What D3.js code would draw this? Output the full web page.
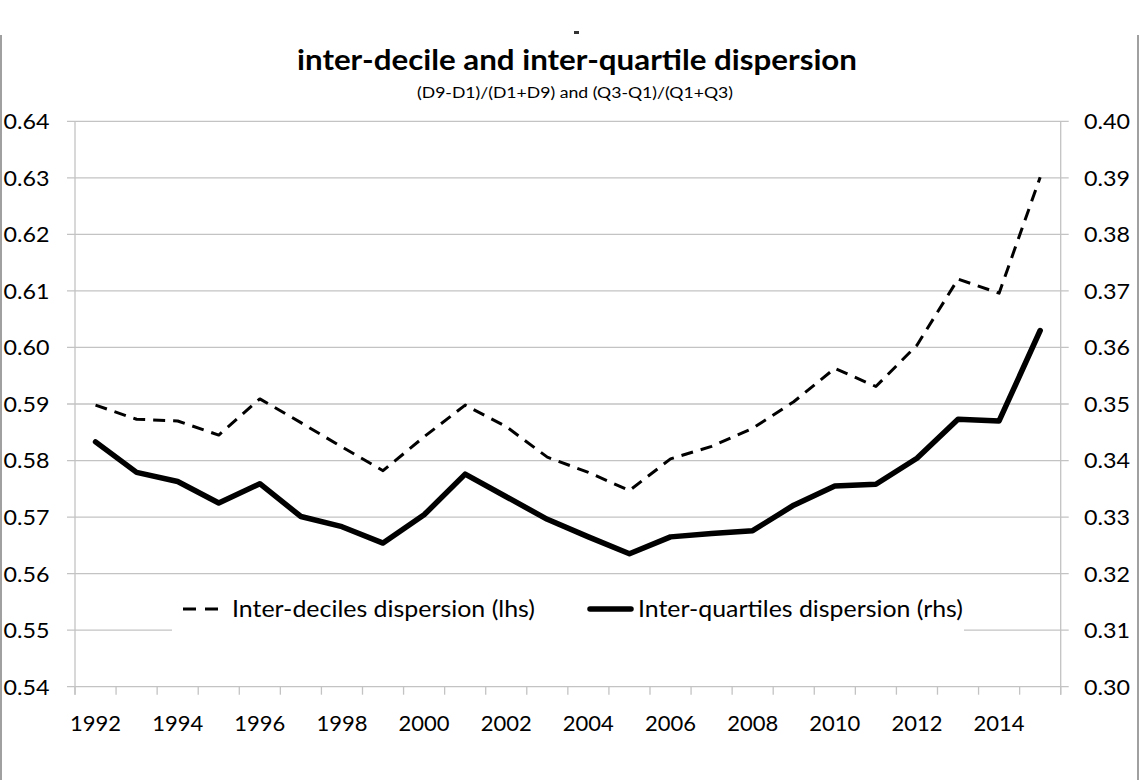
<!DOCTYPE html>
<html>
<head>
<meta charset="utf-8">
<script src="https://cdn.jsdelivr.net/npm/d3@7"></script>
<style>
  html, body { margin: 0; padding: 0; background: #fff; }
  svg { display: block; }
  text { font-family: Lato, "Open Sans", sans-serif; fill: #000; }
</style>
</head>
<body>
<svg id="chart" width="1140" height="780"></svg>
<script>
const years = [1992,1993,1994,1995,1996,1997,1998,1999,2000,2001,2002,2003,2004,2005,2006,2007,2008,2009,2010,2011,2012,2013,2014,2015];
const interDeciles = [0.5898,0.5873,0.5870,0.5845,0.5909,0.5867,0.5824,0.5782,0.5842,0.5898,0.5860,0.5806,0.5779,0.5747,0.5803,0.5825,0.5857,0.5904,0.5963,0.5931,0.6004,0.6121,0.6096,0.6301];
const interQuartiles = [0.3433,0.3379,0.3363,0.3325,0.3359,0.3301,0.3283,0.3254,0.3304,0.3376,0.3336,0.3296,0.3265,0.3235,0.3265,0.3271,0.3276,0.3321,0.3355,0.3358,0.3404,0.3473,0.3470,0.3630];
const leftTicks = [0.54,0.55,0.56,0.57,0.58,0.59,0.60,0.61,0.62,0.63,0.64];
const rightTicks = [0.30,0.31,0.32,0.33,0.34,0.35,0.36,0.37,0.38,0.39,0.40];
const xLabelYears = [1992,1994,1996,1998,2000,2002,2004,2006,2008,2010,2012,2014];
const titleText = "inter-decile and inter-quartile dispersion";
const subtitleText = "(D9-D1)/(D1+D9) and (Q3-Q1)/(Q1+Q3)";
const legendLabels = ["Inter-deciles dispersion (lhs)", "Inter-quartiles dispersion (rhs)"];

const svg = d3.select("#chart");
const L = 75, R = 1060.7, T = 121.3, B = 686.7;
const gridColor = "#c3c3c3";

const x = d3.scaleBand().domain(years).range([L, R]).padding(0);
const cx = d => x(d) + x.bandwidth() / 2;
const yL = d3.scaleLinear().domain([0.54, 0.64]).range([B, T]);
const yR = d3.scaleLinear().domain([0.30, 0.40]).range([B, T]);

// outer border fragments
svg.append("line").attr("x1", 1).attr("x2", 1).attr("y1", 35).attr("y2", 780)
  .attr("stroke", "#a0a0a0").attr("stroke-width", 2);
svg.append("line").attr("x1", 1138).attr("x2", 1138).attr("y1", 35).attr("y2", 780)
  .attr("stroke", "#a0a0a0").attr("stroke-width", 2);
svg.append("rect").attr("x", 574).attr("y", 31).attr("width", 5).attr("height", 3).attr("fill", "#333");

// title
svg.append("text").attr("x", 577).attr("y", 70).attr("text-anchor", "middle")
  .attr("font-size", 29).attr("font-weight", "bold")
  .attr("textLength", 560).attr("lengthAdjust", "spacingAndGlyphs")
  .text(titleText);
svg.append("text").attr("x", 575).attr("y", 98).attr("text-anchor", "middle")
  .attr("font-size", 15.5)
  .attr("textLength", 316).attr("lengthAdjust", "spacingAndGlyphs")
  .text(subtitleText);

// gridlines (extend across both tick marks)
svg.append("g").selectAll("line").data(leftTicks).join("line")
  .attr("x1", L - 8).attr("x2", R + 8)
  .attr("y1", d => yL(d)).attr("y2", d => yL(d))
  .attr("stroke", gridColor).attr("stroke-width", 1.3);

// left & right axis lines
svg.append("line").attr("x1", L).attr("x2", L).attr("y1", T).attr("y2", B + 8)
  .attr("stroke", gridColor).attr("stroke-width", 1.3);
svg.append("line").attr("x1", R).attr("x2", R).attr("y1", T).attr("y2", B + 8)
  .attr("stroke", gridColor).attr("stroke-width", 1.3);

// x ticks at band boundaries
const boundaries = years.map(d => x(d)).concat([R]);
svg.append("g").selectAll("line").data(boundaries).join("line")
  .attr("x1", d => d).attr("x2", d => d).attr("y1", B).attr("y2", B + 8)
  .attr("stroke", gridColor).attr("stroke-width", 1.3);

// y tick labels
const fmt = d3.format(".2f");
svg.append("g").selectAll("text").data(leftTicks).join("text")
  .attr("x", 49.5).attr("y", d => yL(d)).attr("dy", "0.36em")
  .attr("text-anchor", "end").attr("font-size", 22)
  .attr("textLength", 46).attr("lengthAdjust", "spacingAndGlyphs")
  .text(fmt);
svg.append("g").selectAll("text").data(rightTicks).join("text")
  .attr("x", 1084).attr("y", d => yR(d)).attr("dy", "0.36em")
  .attr("text-anchor", "start").attr("font-size", 22)
  .attr("textLength", 46).attr("lengthAdjust", "spacingAndGlyphs")
  .text(fmt);

// x labels
svg.append("g").selectAll("text").data(xLabelYears).join("text")
  .attr("x", d => cx(d)).attr("y", 731).attr("text-anchor", "middle")
  .attr("font-size", 21)
  .attr("textLength", 51).attr("lengthAdjust", "spacingAndGlyphs")
  .text(d => d);

// legend box (white, covering gridline)
svg.append("rect").attr("x", 172).attr("y", 582).attr("width", 792).attr("height", 58)
  .attr("fill", "#fff");

// lines
const lineL = d3.line().x((d, i) => cx(years[i])).y(d => yL(d));
const lineR = d3.line().x((d, i) => cx(years[i])).y(d => yR(d));
svg.append("path").datum(interDeciles).attr("d", lineL)
  .attr("fill", "none").attr("stroke", "#000").attr("stroke-width", 3)
  .attr("stroke-dasharray", "12,8").attr("stroke-linejoin", "round");
svg.append("path").datum(interQuartiles).attr("d", lineR)
  .attr("fill", "none").attr("stroke", "#000").attr("stroke-width", 5.5)
  .attr("stroke-linejoin", "round").attr("stroke-linecap", "round");

// legend
const ly = 609;
svg.append("line").attr("x1", 183).attr("x2", 219).attr("y1", ly).attr("y2", ly)
  .attr("stroke", "#000").attr("stroke-width", 3).attr("stroke-dasharray", "13,9");
svg.append("text").attr("x", 232).attr("y", ly).attr("dy", "0.36em")
  .attr("font-size", 23).attr("textLength", 303).attr("lengthAdjust", "spacingAndGlyphs")
  .text(legendLabels[0]);
svg.append("line").attr("x1", 590).attr("x2", 631).attr("y1", ly).attr("y2", ly)
  .attr("stroke", "#000").attr("stroke-width", 5.5).attr("stroke-linecap", "round");
svg.append("text").attr("x", 638).attr("y", ly).attr("dy", "0.36em")
  .attr("font-size", 23).attr("textLength", 325).attr("lengthAdjust", "spacingAndGlyphs")
  .text(legendLabels[1]);
</script>
</body>
</html>
